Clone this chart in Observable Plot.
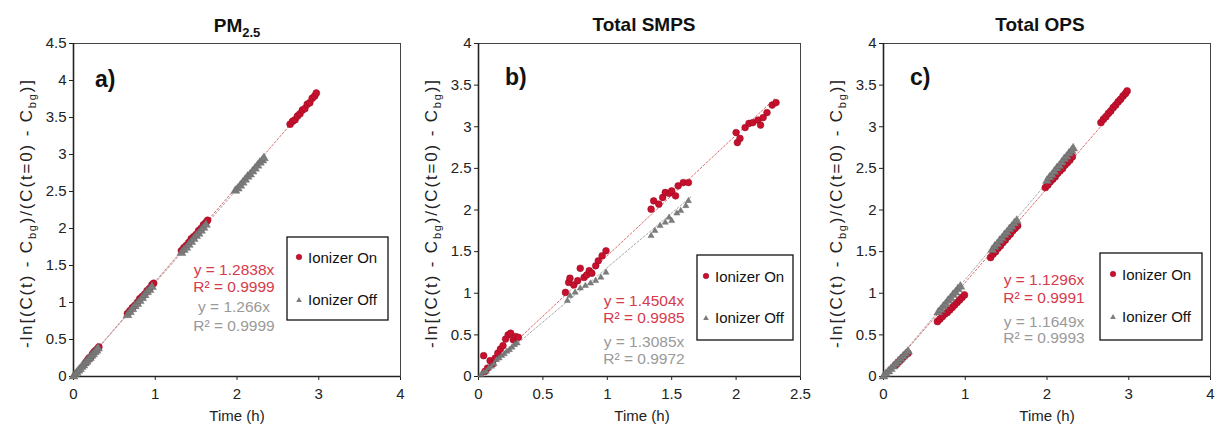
<!DOCTYPE html>
<html><head><meta charset="utf-8">
<script src="https://cdn.jsdelivr.net/npm/d3@7"></script>
<script src="https://cdn.jsdelivr.net/npm/@observablehq/plot@0.6"></script>
<style>
html,body{margin:0;padding:0;background:#fff;}
#wrap{position:relative;width:1217px;height:427px;overflow:hidden;background:#fff;}
#wrap > svg{position:absolute;top:0;}
</style></head>
<body><div id="wrap"></div>
<script>
// ---------- data ----------
const titles = ["PM", "Total SMPS", "Total OPS"];
const panelLabels = ["a)", "b)", "c)"];
const seriesNames = ["Ionizer On", "Ionizer Off"];
const xDomains = [[0, 4], [0, 2.5], [0, 4]];
const yDomains = [[0, 4.5], [0, 4], [0, 4]];
const xTicksA = [0, 1, 2, 3, 4];
const xTicksB = [0, 0.5, 1, 1.5, 2, 2.5];
const xTicksC = [0, 1, 2, 3, 4];
const yTicksA = [0, 0.5, 1, 1.5, 2, 2.5, 3, 3.5, 4, 4.5];
const yTicksB = [0, 0.5, 1, 1.5, 2, 2.5, 3, 3.5, 4];
const yTicksC = [0, 0.5, 1, 1.5, 2, 2.5, 3, 3.5, 4];
const slopesOn = [1.2838, 1.4504, 1.1296];
const slopesOff = [1.266, 1.3085, 1.1649];
const r2On = [0.9999, 0.9985, 0.9991];
const r2Off = [0.9999, 0.9972, 0.9993];
const fitEndOn = [2.97, 2.31, 2.98];
const fitEndOff = [2.33, 1.65, 2.32];

const aOn = [
[0.15,0.19],[0.17,0.22],[0.19,0.25],[0.21,0.26],[0.23,0.30],[0.25,0.33],[0.27,0.35],[0.29,0.37],[0.31,0.40],
[0.66,0.85],[0.69,0.89],[0.72,0.93],[0.75,0.96],[0.78,1.00],[0.81,1.05],[0.84,1.08],[0.87,1.11],[0.90,1.16],[0.93,1.19],[0.96,1.24],[0.98,1.26],
[1.32,1.70],[1.35,1.74],[1.38,1.77],[1.41,1.81],[1.44,1.86],[1.47,1.89],[1.50,1.92],[1.53,1.97],[1.56,2.00],[1.59,2.05],[1.62,2.08],[1.64,2.11],
[2.65,3.41],[2.68,3.45],[2.71,3.47],[2.74,3.52],[2.77,3.55],[2.80,3.60],[2.83,3.62],[2.86,3.68],[2.89,3.70],[2.92,3.76],[2.95,3.79],[2.97,3.83]
];
const aOff = [
[0.00,0.00],[0.02,0.03],[0.04,0.05],[0.06,0.08],[0.08,0.10],[0.10,0.13],[0.12,0.15],[0.14,0.18],[0.16,0.20],[0.18,0.23],[0.20,0.25],[0.22,0.28],[0.24,0.30],[0.26,0.33],[0.28,0.35],[0.30,0.38],
[0.66,0.83],[0.69,0.87],[0.72,0.91],[0.75,0.95],[0.78,0.98],[0.81,1.02],[0.84,1.06],[0.87,1.10],[0.90,1.14],[0.93,1.17],[0.96,1.21],
[1.32,1.67],[1.35,1.71],[1.38,1.74],[1.41,1.78],[1.44,1.82],[1.47,1.86],[1.50,1.90],[1.53,1.93],[1.56,1.97],[1.59,2.01],[1.62,2.05],
[1.98,2.51],[2.01,2.54],[2.04,2.58],[2.07,2.62],[2.10,2.66],[2.13,2.70],[2.16,2.73],[2.19,2.77],[2.22,2.81],[2.25,2.85],[2.28,2.89],[2.31,2.92],[2.33,2.95]
];
const bOn = [
[0.04,0.25],[0.05,0.06],[0.07,0.10],[0.09,0.19],[0.11,0.15],[0.13,0.22],[0.15,0.28],[0.17,0.33],[0.19,0.37],[0.21,0.45],[0.23,0.50],[0.25,0.52],[0.27,0.44],[0.29,0.48],[0.31,0.47],
[0.675,1.01],[0.70,1.13],[0.71,1.18],[0.74,1.10],[0.77,1.15],[0.79,1.30],[0.82,1.19],[0.84,1.22],[0.86,1.27],[0.88,1.24],[0.91,1.33],[0.93,1.39],[0.96,1.45],[0.99,1.51],
[1.34,2.01],[1.36,2.11],[1.40,2.07],[1.43,2.15],[1.45,2.21],[1.48,2.20],[1.50,2.23],[1.53,2.17],[1.55,2.29],[1.59,2.33],[1.63,2.33],
[2.00,2.93],[2.01,2.81],[2.03,2.86],[2.07,2.99],[2.10,3.04],[2.13,3.05],[2.17,3.08],[2.19,3.02],[2.21,3.11],[2.24,3.17],[2.28,3.26],[2.31,3.29]
];
const bOff = [
[0.02,0.02],[0.04,0.05],[0.06,0.06],[0.08,0.10],[0.10,0.12],[0.12,0.15],[0.14,0.20],[0.16,0.22],[0.18,0.25],[0.20,0.27],[0.22,0.30],[0.24,0.32],[0.26,0.35],[0.28,0.38],[0.30,0.40],
[0.69,0.91],[0.71,0.97],[0.75,1.01],[0.79,1.06],[0.83,1.09],[0.87,1.12],[0.91,1.15],[0.95,1.19],[0.99,1.25],
[1.34,1.69],[1.37,1.75],[1.41,1.81],[1.45,1.85],[1.48,1.91],[1.50,1.87],[1.54,1.96],[1.57,1.99],[1.61,2.05],[1.63,2.11]
];
const cOn = [
[0.15,0.14],[0.18,0.17],[0.21,0.20],[0.24,0.23],[0.27,0.26],[0.30,0.28],
[0.66,0.66],[0.69,0.69],[0.72,0.72],[0.75,0.75],[0.78,0.77],[0.81,0.80],[0.84,0.83],[0.87,0.86],[0.90,0.89],[0.93,0.92],[0.96,0.95],[0.99,0.98],
[1.31,1.43],[1.34,1.47],[1.37,1.50],[1.40,1.54],[1.43,1.57],[1.46,1.61],[1.49,1.64],[1.52,1.68],[1.55,1.71],[1.58,1.75],[1.61,1.78],[1.64,1.81],
[1.98,2.27],[2.01,2.30],[2.04,2.34],[2.07,2.37],[2.10,2.40],[2.13,2.44],[2.16,2.47],[2.19,2.50],[2.22,2.54],[2.25,2.57],[2.28,2.60],[2.31,2.64],
[2.66,3.05],[2.69,3.09],[2.72,3.12],[2.75,3.16],[2.78,3.19],[2.81,3.23],[2.84,3.26],[2.87,3.30],[2.90,3.33],[2.93,3.37],[2.96,3.40],[2.98,3.43]
];
const cOff = [
[0.00,0.00],[0.03,0.03],[0.06,0.06],[0.09,0.09],[0.12,0.12],[0.15,0.15],[0.18,0.18],[0.21,0.21],[0.24,0.24],[0.27,0.27],[0.30,0.30],
[0.67,0.77],[0.70,0.80],[0.73,0.84],[0.76,0.87],[0.79,0.91],[0.82,0.94],[0.85,0.98],[0.88,1.01],[0.91,1.05],[0.94,1.08],
[1.33,1.52],[1.36,1.56],[1.39,1.59],[1.42,1.63],[1.45,1.66],[1.48,1.70],[1.51,1.73],[1.54,1.77],[1.57,1.80],[1.60,1.84],[1.63,1.87],
[2.00,2.35],[2.03,2.39],[2.06,2.42],[2.09,2.46],[2.12,2.50],[2.15,2.53],[2.18,2.57],[2.21,2.61],[2.24,2.64],[2.27,2.68],[2.30,2.71],[2.32,2.74]
];

// ---------- layout ----------
const RED = "#c8102e", RED_EDGE = "#8e0a20", GRAY = "#7c7c7c";
const RED_TXT = "#d63a4c", GRAY_TXT = "#9a9a9a";
const FONT = "'Liberation Sans', Arial, sans-serif";
const wrap = document.getElementById("wrap");

const panels = [
  {on: aOn, off: aOff, xt: xTicksA, yt: yTicksA, left: 0, width: 410, mL: 73, mR: 10, rOn: 3.5, rOff: 3.3},
  {on: bOn, off: bOff, xt: xTicksB, yt: yTicksB, left: 405, width: 400, mL: 73, mR: 5, rOn: 3.4, rOff: 2.3},
  {on: cOn, off: cOff, xt: xTicksC, yt: yTicksC, left: 810, width: 407, mL: 73, mR: 7, rOn: 3.5, rOff: 3.3}
];

panels.forEach((p, i) => {
  const fmt = d => String(d);
  const chart = Plot.plot({
    width: p.width, height: 427,
    marginLeft: p.mL, marginRight: p.mR, marginTop: 43, marginBottom: 51,
    style: {fontFamily: FONT, fontSize: "15px", color: "#222", background: "transparent", overflow: "visible"},
    x: {domain: xDomains[i], ticks: p.xt, tickSize: 4, tickPadding: 8, tickFormat: fmt, label: null},
    y: {domain: yDomains[i], ticks: p.yt, tickSize: 4, tickPadding: 3, tickFormat: fmt, label: null},
    marks: [
      Plot.frame({stroke: "#444", strokeWidth: 1}),
      Plot.ruleX([xDomains[i][0]], {stroke: "#222", strokeWidth: 1.6}),
      Plot.ruleY([yDomains[i][0]], {stroke: "#222", strokeWidth: 1.6}),
      Plot.line([[0, 0], [fitEndOn[i], slopesOn[i] * fitEndOn[i]]], {x: d => d[0], y: d => d[1], stroke: "#e26b6b", strokeWidth: 1, strokeDasharray: "2,2"}),
      Plot.line([[0, 0], [fitEndOff[i], slopesOff[i] * fitEndOff[i]]], {x: d => d[0], y: d => d[1], stroke: "#a8a8a8", strokeWidth: 1, strokeDasharray: "2,2"}),
      Plot.dot(p.on, {x: d => d[0], y: d => d[1], r: p.rOn, fill: RED, stroke: RED_EDGE, strokeWidth: 0.5}),
      Plot.dot(p.off, {x: d => d[0], y: d => d[1], r: p.rOff, symbol: "triangle", fill: GRAY, stroke: "#666", strokeWidth: 0.4})
    ]
  });
  chart.style.left = p.left + "px";
  wrap.appendChild(chart);
});

// ---------- overlay text: titles, axis titles, legends, equations ----------
const ov = d3.select(wrap).append("svg")
  .attr("width", 1217).attr("height", 427)
  .style("left", "0px").style("pointer-events", "none")
  .attr("font-family", FONT);

const titlePos = [[237, 32], [644, 31], [1040, 31]];
titlePos.forEach(([x, y], i) => {
  const t = ov.append("text").attr("x", x).attr("y", y).attr("text-anchor", "middle")
    .attr("font-size", 19).attr("font-weight", "bold").attr("fill", "#111");
  t.append("tspan").text(titles[i]);
  if (i === 0) t.append("tspan").attr("font-size", 13).attr("dy", 5).text("2.5");
});

const labelPos = [[95, 87], [505, 85], [910, 85]];
labelPos.forEach(([x, y], i) => {
  ov.append("text").attr("x", x).attr("y", y).attr("font-size", 23).attr("font-weight", "bold")
    .attr("fill", "#111").text(panelLabels[i]);
});

const ylabX = [32, 437, 842];
ylabX.forEach(x => {
  const t = ov.append("text").attr("transform", `translate(${x},214) rotate(-90)`)
    .attr("text-anchor", "middle").attr("font-size", 17).attr("fill", "#222")
    .attr("textLength", 268).attr("lengthAdjust", "spacing");
  const parts = [["-ln[(C(t) - C", false], ["bg", true], [")/(C(t=0) - C", false], ["bg", true], [")]", false]];
  parts.forEach(([s, sub], k) => {
    const ts = t.append("tspan").text(s);
    if (sub) ts.attr("font-size", 11).attr("dy", 4);
    else if (k > 0) ts.attr("dy", -4);
  });
});

const xlabX = [237, 642, 1047];
xlabX.forEach(x => {
  ov.append("text").attr("x", x).attr("y", 421).attr("text-anchor", "middle")
    .attr("font-size", 15).attr("fill", "#222").text("Time (h)");
});

const legendBoxes = [
  {x0: 287, y0: 237, x1: 388, y1: 320, tx: 308, b1: 263, b2: 305},
  {x0: 697, y0: 255, x1: 793, y1: 340, tx: 715, b1: 282, b2: 323},
  {x0: 1100, y0: 253, x1: 1202, y1: 340, tx: 1122, b1: 280, b2: 322}
];
legendBoxes.forEach(L => {
  ov.append("rect").attr("x", L.x0).attr("y", L.y0).attr("width", L.x1 - L.x0).attr("height", L.y1 - L.y0)
    .attr("fill", "#fff").attr("stroke", "#111").attr("stroke-width", 1.3);
  ov.append("circle").attr("cx", L.tx - 9).attr("cy", L.b1 - 6).attr("r", 2.8).attr("fill", RED).attr("stroke", RED_EDGE).attr("stroke-width", 0.5);
  const cx = L.tx - 9, cy = L.b2 - 5;
  ov.append("path").attr("d", `M${cx},${cy - 3}L${cx + 2.8},${cy + 2}L${cx - 2.8},${cy + 2}Z`).attr("fill", GRAY);
  ov.append("text").attr("x", L.tx).attr("y", L.b1).attr("font-size", 15).attr("fill", "#111").text(seriesNames[0]);
  ov.append("text").attr("x", L.tx).attr("y", L.b2).attr("font-size", 15).attr("fill", "#111").text(seriesNames[1]);
});

const eqPos = [
  {x: 234, b: [275, 292, 312, 331]},
  {x: 644, b: [306, 323, 347, 364]},
  {x: 1044, b: [285, 303, 327, 343]}
];
eqPos.forEach((E, i) => {
  const lines = [
    [`y = ${slopesOn[i]}x`, RED_TXT], [`R² = ${r2On[i]}`, RED_TXT],
    [`y = ${slopesOff[i]}x`, GRAY_TXT], [`R² = ${r2Off[i]}`, GRAY_TXT]
  ];
  lines.forEach(([s, c], k) => {
    ov.append("text").attr("x", E.x).attr("y", E.b[k]).attr("text-anchor", "middle")
      .attr("font-size", 15.5).attr("fill", c).text(s);
  });
});
</script>
</body></html>
